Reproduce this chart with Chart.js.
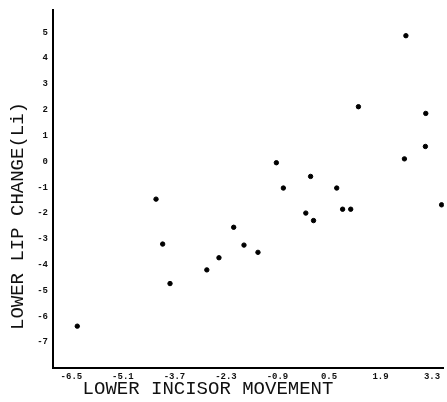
<!DOCTYPE html>
<html>
<head>
<meta charset="utf-8">
<title>Lower lip change vs lower incisor movement</title>
<script src="https://cdn.jsdelivr.net/npm/chart.js@4/dist/chart.umd.min.js"></script>
<style>
  html, body { margin: 0; padding: 0; background: #fff; }
  #wrap { width: 447px; height: 402px; position: relative; }
</style>
</head>
<body>
<div id="wrap"><canvas id="chart"></canvas></div>
<script>
// values
var lowerIncisorMovement = [-6.34, -4.20, -4.02, -3.82, -2.82, -2.49, -2.09, -1.81, -1.43, -0.93, -0.74, -0.13,
  0.00, 0.08, 0.71, 0.87, 1.09, 1.30, 2.55, 2.59, 3.12, 3.13, 3.56];
var lowerLipChange = [-6.38, -1.46, -3.20, -4.73, -4.20, -3.73, -2.55, -3.24, -3.52, -0.05, -1.03, -2.00,
  -0.58, -2.29, -1.03, -1.85, -1.85, 2.12, 0.10, 4.87, 0.58, 1.86, -1.68];

var xTicks = [-6.5, -5.1, -3.7, -2.3, -0.9, 0.5, 1.9, 3.3];
var yTicks = [-7, -6, -5, -4, -3, -2, -1, 0, 1, 2, 3, 4, 5];

var xTitle = 'LOWER INCISOR MOVEMENT';
var yTitle = 'LOWER LIP CHANGE(Li)';

var points = lowerIncisorMovement.map(function (x, i) {
  return { x: x, y: lowerLipChange[i] };
});

// axis titles sit off-centre in the scan, so draw them by hand
var axisTitles = {
  id: 'axisTitles',
  afterDraw: function (chart) {
    var ctx = chart.ctx;
    ctx.save();
    ctx.fillStyle = '#111';
    ctx.font = '19px "Liberation Mono", monospace';
    ctx.textAlign = 'center';
    ctx.textBaseline = 'middle';
    ctx.fillText(xTitle, 208, 389);
    ctx.translate(18, 216);
    ctx.rotate(-Math.PI / 2);
    ctx.fillText(yTitle, 0, 0);
    ctx.restore();
  }
};

new Chart(document.getElementById('chart').getContext('2d'), {
  type: 'scatter',
  data: {
    datasets: [{
      data: points,
      backgroundColor: '#000',
      borderColor: '#000',
      pointRadius: 2.2,
      pointHoverRadius: 2.2
    }]
  },
  options: {
    responsive: true,
    maintainAspectRatio: false,
    animation: false,
    layout: { padding: { top: 10, right: 3, left: 0, bottom: 0 } },
    plugins: {
      legend: { display: false },
      tooltip: { enabled: false }
    },
    scales: {
      x: {
        type: 'linear',
        min: -7,
        max: 3.62,
        afterBuildTicks: function (scale) {
          scale.ticks = xTicks.map(function (v) { return { value: v }; });
        },
        afterFit: function (scale) { scale.height = 34; },
        grid: { display: false, drawTicks: false },
        border: { display: true, color: '#000', width: 2 },
        ticks: {
          color: '#111',
          padding: 3,
          maxRotation: 0,
          autoSkip: false,
          font: { family: '"Liberation Mono", monospace', size: 9, weight: 'bold' },
          callback: function (v) { return String(v); }
        }
      },
      y: {
        type: 'linear',
        min: -8,
        max: 5.85,
        afterBuildTicks: function (scale) {
          scale.ticks = yTicks.map(function (v) { return { value: v }; });
        },
        afterFit: function (scale) { scale.width = 53; },
        grid: { display: false, drawTicks: false },
        border: { display: true, color: '#000', width: 2 },
        ticks: {
          color: '#111',
          padding: 5,
          autoSkip: false,
          font: { family: '"Liberation Mono", monospace', size: 9, weight: 'bold' },
          callback: function (v) { return String(v); }
        }
      }
    }
  },
  plugins: [axisTitles]
});
</script>
</body>
</html>
